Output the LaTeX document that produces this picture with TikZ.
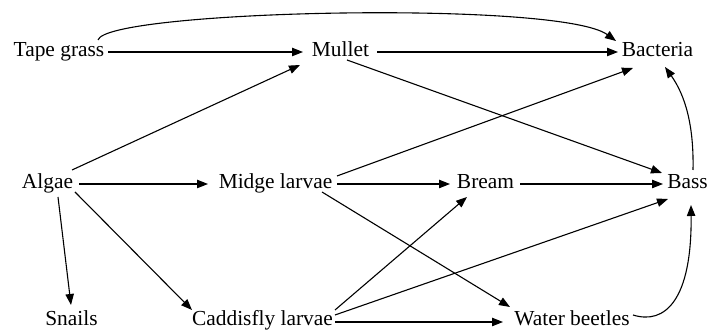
\documentclass[tikz,border=0pt]{standalone}
\usepackage{fontspec}
\setmainfont{Liberation Serif}
\usetikzlibrary{arrows.meta}
\begin{document}
\begin{tikzpicture}[x=0.5pt,y=-0.5pt,
  lab/.style={inner sep=0pt, text height=7pt, text depth=0pt, font=\fontsize{10.7}{12}\selectfont},
  arr/.style={line width=0.55pt, -{Triangle[length=5.5pt,width=4.2pt]}}]
\useasboundingbox (0,0) rectangle (708,330);
% nodes
\node[lab] (tape)   at (59,50)    {Tape grass};
\node[lab] (mullet) at (340.5,50) {Mullet};
\node[lab] (bact)   at (657.5,50) {Bacteria};
\node[lab] (algae)  at (47.5,182) {Algae};
\node[lab] (midge)  at (275.5,182) {Midge larvae};
\node[lab] (bream)  at (485.5,182) {Bream};
\node[lab] (bass)   at (687.5,182)  {Bass};
\node[lab] (snails) at (71.5,319) {Snails};
\node[lab] (cadd)   at (262.5,319) {Caddisfly larvae};
\node[lab] (water)  at (572,319)  {Water beetles};
% connectors
\draw[arr] ([shift={(49,2)}]tape.center) -- ([shift={(-37.5,2)}]mullet.center);
\draw[arr] ([shift={(39,-10)}]tape.center) .. controls (106,10) and (560,0) .. ([shift={(-41.5,-9)}]bact.center);
\draw[arr] ([shift={(36.5,2)}]mullet.center) -- ([shift={(-39.5,2)}]bact.center);
\draw[arr] ([shift={(6.5,10)}]mullet.center) -- ([shift={(-25.5,-9)}]bass.center);
\draw[arr] ([shift={(24.5,-12)}]algae.center) -- ([shift={(-40.5,15)}]mullet.center);
\draw[arr] ([shift={(31.5,2)}]algae.center) -- ([shift={(-67.5,2)}]midge.center);
\draw[arr] ([shift={(10.5,15)}]algae.center) -- ([shift={(-0.5,-14)}]snails.center);
\draw[arr] ([shift={(27.5,10)}]algae.center) -- ([shift={(-70.5,-9)}]cadd.center);
\draw[arr] ([shift={(61.5,-6)}]midge.center) -- ([shift={(-24.5,18)}]bact.center);
\draw[arr] ([shift={(61.5,2)}]midge.center) -- ([shift={(-35.5,2)}]bream.center);
\draw[arr] ([shift={(46.5,10)}]midge.center) -- ([shift={(-62,-12)}]water.center);
\draw[arr] ([shift={(34.5,2)}]bream.center) -- ([shift={(-24.5,2)}]bass.center);
\draw[arr] ([shift={(72.5,-9)}]cadd.center) -- ([shift={(-18.5,15)}]bream.center);
\draw[arr] ([shift={(72.5,-4)}]cadd.center) -- ([shift={(-19.5,17)}]bass.center);
\draw[arr] ([shift={(72.5,3)}]cadd.center) -- ([shift={(-69,3)}]water.center);
\draw[arr] ([shift={(61,-4)}]water.center) .. controls (665,325) and (692,300) .. ([shift={(3.5,23)}]bass.center);
\draw[arr] ([shift={(5.5,-12)}]bass.center) .. controls (694,125) and (685,95) .. ([shift={(7.5,17)}]bact.center);
\end{tikzpicture}
\end{document}
